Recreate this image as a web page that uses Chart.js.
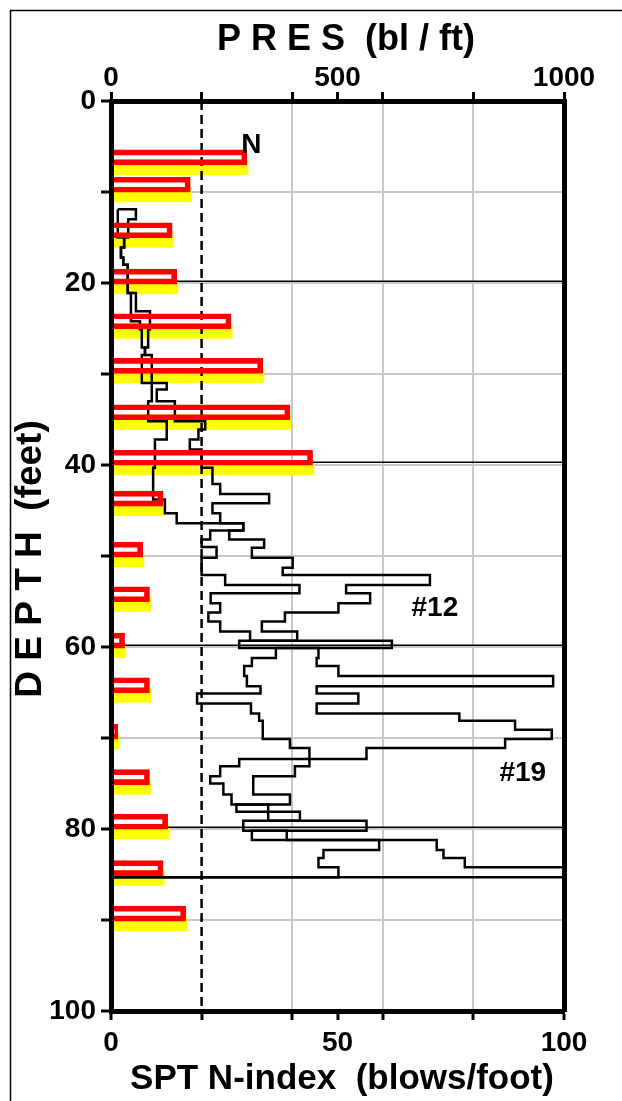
<!DOCTYPE html>
<html>
<head>
<meta charset="utf-8">
<script src="https://cdn.jsdelivr.net/npm/chart.js@4/dist/chart.umd.min.js"></script>
<style>
  html, body { margin: 0; padding: 0; background: #fff; }
  canvas { display: block; }
</style>
</head>
<body>
<canvas id="log" width="622" height="1101"></canvas>
<script>
// SPT sampling depths (ft) and blow counts (blows/foot)
const sptDepths = [6.2, 9.2, 14.2, 19.3, 24.2, 29.1, 34.2, 39.2, 43.7, 49.3, 54.2, 59.3, 64.2, 69.3, 74.3, 79.2, 84.3, 89.3];
const sptBlows  = [30, 17.5, 13.5, 14.5, 26.5, 33.5, 39.5, 44.5, 11.5, 7, 8.5, 3, 8.5, 1.5, 8.5, 12.5, 11.5, 16.5];

// Penetration resistance soundings: top depth of each interval (ft) and resistance (bl/ft)
const pres19Depths = [11.9, 15.0, 16.1, 17.2, 18.0, 21.1, 24.2, 25.1, 27.1, 27.9, 31.0, 33.0, 35.2, 37.2, 40.3,
  43.8, 45.3, 46.4, 47.2, 48.2, 49.0, 50.2, 52.1, 53.2, 54.1, 55.2, 56.2, 57.2, 58.3, 59.3, 60.1, 61.2, 62.1,
  63.2, 64.3, 65.1, 66.2, 67.3, 68.1, 70.1, 71.1, 73.1, 74.2, 76.2, 77.3, 78.1, 79.1, 80.2, 81.2, 82.3, 83.2,
  84.2, 85.3];
const pres19Values = [15, 29, 22, 27, 37, 44, 64, 68, 75, 68, 90, 82, 123, 97, 93,
  119, 145, 292, 219, 200, 233, 200, 252, 416, 220, 241, 215, 241, 307, 620, 364, 311, 294,
  300, 330, 190, 309, 327, 335, 395, 438, 406, 314, 395, 277, 417, 292, 388, 592, 469, 458,
  502, 0];

const pres12Depths = [11.9, 11.9, 13.0, 15.0, 16.1, 17.2, 18.0, 21.1, 23.1, 25.1, 27.1, 27.9, 31.0, 31.7, 33.0,
  35.2, 36.1, 37.2, 38.3, 40.3, 42.1, 43.2, 44.2, 45.3, 46.4, 47.2, 48.2, 49.1, 50.2, 51.3, 52.1, 53.2, 54.1,
  55.2, 56.2, 57.2, 58.3, 59.3, 60.1, 61.2, 62.1, 63.2, 64.3, 65.1, 66.2, 67.3, 68.1, 69.1, 70.1, 71.1, 72.3,
  73.1, 74.2, 75.0, 76.2, 77.3, 79.1, 80.2, 81.2, 82.3, 83.2, 84.2, 85.3];
const pres12Values = [15, 55, 38, 29, 22, 27, 37, 55, 86, 82, 75, 90, 123, 101, 141,
  208, 193, 174, 200, 224, 241, 349, 224, 241, 292, 261, 338, 311, 401, 379, 704, 519, 572,
  502, 384, 333, 411, 283, 458, 454, 502, 976, 454, 546, 454, 769, 892, 973, 870, 564, 283,
  241, 219, 248, 266, 347, 564, 311, 719, 734, 781, 1100, 0];

// Marker depths (ft) drawn as thin horizontal rules
const markerDepths = [19.8, 39.7, 59.8, 79.8];
const blowThreshold = 20;

// Axis ticks and labels
const depthTicks  = [0, 10, 20, 30, 40, 50, 60, 70, 80, 90, 100];
const depthLabels = [0, 20, 40, 60, 80, 100];
const blowTicks   = [0, 20, 40, 50, 60, 80, 100];
const blowLabels  = [0, 50, 100];
const blowGrid    = [40, 60, 80];
const presTicks   = [0, 200, 400, 500, 600, 800, 1000];
const presLabels  = [0, 500, 1000];

const FONT = '"Liberation Sans", Arial, sans-serif';
const TICK_FONT = { family: '"Liberation Sans Narrow", "Liberation Sans", Arial, sans-serif', size: 28, weight: 'bold' };
const GRID_GRAY = '#c8c8c8';

const toPoints = (depths, values) => depths.map((d, i) => ({ x: values[i], y: d }));

const datasets = [
  {
    type: 'bar',
    label: 'SPT N',
    data: toPoints(sptDepths, sptBlows),
    xAxisID: 'xN', yAxisID: 'y',
    indexAxis: 'y',
    barThickness: 15,
    backgroundColor: 'rgba(0,0,0,0)',
    borderColor: '#ff0000',
    borderWidth: 5,
    borderSkipped: 'start',
    order: 0
  },
  {
    type: 'line', label: 'PRES #19',
    data: toPoints(pres19Depths, pres19Values),
    xAxisID: 'xP', yAxisID: 'y', indexAxis: 'y',
    stepped: 'after', borderColor: '#000', borderWidth: 2.5,
    pointRadius: 0, fill: false, order: 1
  },
  {
    type: 'line', label: 'PRES #12',
    data: toPoints(pres12Depths, pres12Values),
    xAxisID: 'xP', yAxisID: 'y', indexAxis: 'y',
    stepped: 'after', borderColor: '#000', borderWidth: 2.5,
    pointRadius: 0, fill: false, order: 1
  },
  {
    type: 'line', label: 'N = 20',
    data: [{ x: blowThreshold, y: 0 }, { x: blowThreshold, y: 100 }],
    xAxisID: 'xN', yAxisID: 'y', indexAxis: 'y',
    borderColor: '#000', borderWidth: 2.5, borderDash: [9, 5],
    pointRadius: 0, fill: false, order: 2
  }
].concat(markerDepths.map(d => ({
  type: 'line', label: 'marker ' + d,
  data: [{ x: 0, y: d }, { x: 100, y: d }],
  xAxisID: 'xN', yAxisID: 'y', indexAxis: 'y',
  borderColor: '#000', borderWidth: 1.5,
  pointRadius: 0, fill: false, order: 3
})));

const fixTicks = (list) => (scale) => { scale.ticks = list.map(v => ({ value: v })); };

// Yellow offset shadow under the SPT bars, titles and annotations
const decor = {
  id: 'decor',
  beforeDatasetsDraw(chart) {
    const ctx = chart.ctx;
    const meta = chart.getDatasetMeta(0);
    ctx.save();
    ctx.fillStyle = '#ffff00';
    meta.data.forEach(bar => {
      const h = bar.height;
      ctx.fillRect(bar.base + 2, bar.y - h / 2 + 10, bar.x + 1.5 - bar.base - 2, h);
    });
    ctx.restore();
  },
  afterDraw(chart) {
    const ctx = chart.ctx;
    const xP = chart.scales.xP, xN = chart.scales.xN, y = chart.scales.y;
    ctx.save();
    ctx.fillStyle = '#000';
    ctx.textBaseline = 'alphabetic';
    ctx.textAlign = 'center';

    ctx.font = 'bold 36px ' + FONT;
    ctx.fillText('P R E S  (bl / ft)', 346, 50);

    ctx.font = 'bold 35px ' + FONT;
    ctx.fillText('SPT N-index  (blows/foot)', 342, 1089);

    ctx.save();
    ctx.translate(41, 559);
    ctx.rotate(-Math.PI / 2);
    ctx.font = 'bold 37px ' + FONT;
    ctx.fillText('D E P T H  (feet)', 0, 0);
    ctx.restore();

    ctx.font = 'bold 28px ' + FONT;
    ctx.fillText('N', xN.getPixelForValue(31), y.getPixelForValue(5.7));
    ctx.fillText('#12', xP.getPixelForValue(715), y.getPixelForValue(56.6));
    ctx.fillText('#19', xP.getPixelForValue(909), y.getPixelForValue(74.7));

    // outer frame
    ctx.strokeStyle = '#000';
    ctx.lineWidth = 1.5;
    ctx.strokeRect(10.5, 10.5, 800, 1300);
    ctx.restore();
  }
};

new Chart(document.getElementById('log'), {
  type: 'bar',
  data: { datasets },
  options: {
    indexAxis: 'y',
    responsive: false,
    animation: false,
    devicePixelRatio: 1,
    layout: { padding: { left: 0, right: 58, top: 0, bottom: 0 } },
    plugins: { legend: { display: false }, tooltip: { enabled: false } },
    scales: {
      y: {
        type: 'linear', position: 'left', reverse: true, min: 0, max: 100,
        offset: false,
        afterBuildTicks: fixTicks(depthTicks),
        afterFit: s => { s.width = 111; s.paddingTop = 0; s.paddingBottom = 0; },
        ticks: {
          autoSkip: false, color: '#000', font: TICK_FONT, padding: 5,
          callback: v => depthLabels.includes(v) ? String(v) : ''
        },
        grid: {
          offset: false,
          color: c => (c.tick && c.tick.value > 0 && c.tick.value < 100) ? GRID_GRAY : 'rgba(0,0,0,0)',
          lineWidth: 2, tickColor: '#000', tickLength: 10, tickWidth: 3
        },
        border: { color: '#000', width: 5, z: 1 }
      },
      yR: {
        type: 'linear', position: 'right', reverse: true, min: 0, max: 100,
        offset: false,
        afterFit: s => { s.width = 0; },
        ticks: { display: false },
        grid: { offset: false, drawOnChartArea: false, drawTicks: false },
        border: { color: '#000', width: 5, z: 1 }
      },
      xP: {
        type: 'linear', position: 'top', min: 0, max: 1000,
        offset: false,
        afterBuildTicks: fixTicks(presTicks),
        afterFit: s => { s.height = 101; s.paddingLeft = 0; s.paddingRight = 0; },
        ticks: {
          autoSkip: false, maxRotation: 0, minRotation: 0, color: '#000', font: TICK_FONT, padding: -3,
          callback: v => presLabels.includes(v) ? String(v) : ''
        },
        grid: { offset: false, drawOnChartArea: false, tickColor: '#000', tickLength: 9, tickWidth: 3 },
        border: { color: '#000', width: 5, z: 1 }
      },
      xN: {
        type: 'linear', position: 'bottom', min: 0, max: 100,
        offset: false,
        afterBuildTicks: fixTicks(blowTicks),
        afterFit: s => { s.height = 90; s.paddingLeft = 0; s.paddingRight = 0; },
        ticks: {
          autoSkip: false, maxRotation: 0, minRotation: 0, color: '#000', font: TICK_FONT, padding: 6,
          callback: v => blowLabels.includes(v) ? String(v) : ''
        },
        grid: {
          offset: false,
          color: c => (c.tick && blowGrid.includes(c.tick.value)) ? GRID_GRAY : 'rgba(0,0,0,0)',
          lineWidth: 2, tickColor: '#000', tickLength: 9, tickWidth: 3
        },
        border: { color: '#000', width: 5, z: 1 }
      }
    }
  },
  plugins: [decor]
});
</script>
</body>
</html>
